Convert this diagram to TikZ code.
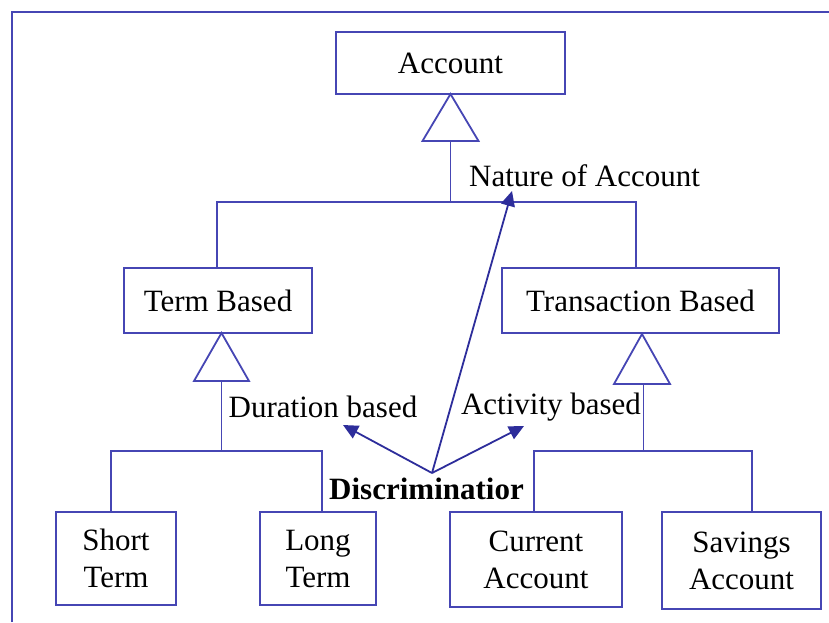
\documentclass[tikz,border=0pt]{standalone}
\usepackage{fontspec}
\setmainfont{Liberation Serif}
\usetikzlibrary{arrows.meta}
\definecolor{lineblue}{RGB}{70,70,180}
\definecolor{arrowblue}{RGB}{45,45,155}
\begin{document}
\begin{tikzpicture}[x=1pt,y=-1pt,
  every node/.style={font=\fontsize{31}{37}\selectfont},
  box/.style={draw=lineblue,line width=1.8pt,inner sep=0pt,align=center},
  conn/.style={draw=lineblue,line width=1.8pt},
  disc/.style={draw=arrowblue,line width=1.8pt,-{Triangle[length=15pt,width=14pt]}},
  lbl/.style={inner sep=0pt}]
\useasboundingbox (0,0) rectangle (829,622);
\fill[white] (0,0) rectangle (829,622);
% frame
\draw[conn] (12,622) -- (12,12) -- (829,12);
% boxes
\node[box,minimum width=229pt,minimum height=62pt] (acc) at (450.5,63) {Account};
\node[box,minimum width=188pt,minimum height=65pt] (term) at (218,300.5) {Term Based};
\node[box,minimum width=277pt,minimum height=65pt] (trans) at (640.5,300.5) {Transaction Based};
\node[box,minimum width=120pt,minimum height=93pt] (short) at (116,558.5) {Short\\Term};
\node[box,minimum width=116pt,minimum height=93pt] (long) at (318,558.5) {Long\\Term};
\node[box,minimum width=172pt,minimum height=95pt] (curr) at (536,559.5) {Current\\Account};
\node[box,minimum width=159pt,minimum height=97pt] (sav) at (741.5,560.5) {Savings\\Account};
% labels
\node[lbl,anchor=west] (nature) at (469,176) {Nature of Account};
\node[lbl] (dur) at (323,407) {Duration based};
\node[lbl] (act) at (551,407) {Activity based};
\node[lbl,font=\fontsize{31}{37}\selectfont\bfseries] (discr) at (426.5,489) {Discriminatior};
% Account generalization
\coordinate (a1) at (450.5,94);
\draw[conn,line join=miter] (a1) -- (422.5,141) -- (478.5,141) -- cycle;
\coordinate (a2) at (450.5,141);
\coordinate (a3) at (450.5,202);
\draw[conn] (a2) -- (a3);
\coordinate (aL) at (217,202);
\coordinate (aR) at (636,202);
\draw[conn] (term.north -| aL) -- (aL) -- (aR) -- (trans.north -| aR);
% Term generalization
\coordinate (t1) at (221.5,333);
\draw[conn,line join=miter] (t1) -- (194,381) -- (249,381) -- cycle;
\coordinate (t2) at (221.5,381);
\coordinate (t3) at (221.5,451);
\draw[conn] (t2) -- (t3);
\coordinate (tL) at (111,451);
\coordinate (tR) at (322,451);
\draw[conn] (short.north -| tL) -- (tL) -- (tR) -- (long.north -| tR);
% Transaction generalization
\coordinate (r1) at (642,334);
\draw[conn,line join=miter] (r1) -- (614,384) -- (670,384) -- cycle;
\coordinate (r2) at (643.5,384);
\coordinate (r3) at (643.5,451);
\draw[conn] (r2) -- (r3);
\coordinate (rL) at (534,451);
\coordinate (rR) at (752,451);
\draw[conn] (curr.north -| rL) -- (rL) -- (rR) -- (sav.north -| rR);
% discriminator arrows
\coordinate (d0) at (432,473);
\coordinate (dN) at (512,191);
\coordinate (dD) at (343,425);
\coordinate (dA) at (524,426);
\draw[disc] (d0) -- (dN);
\draw[disc] (d0) -- (dD);
\draw[disc] (d0) -- (dA);
\end{tikzpicture}
\end{document}
